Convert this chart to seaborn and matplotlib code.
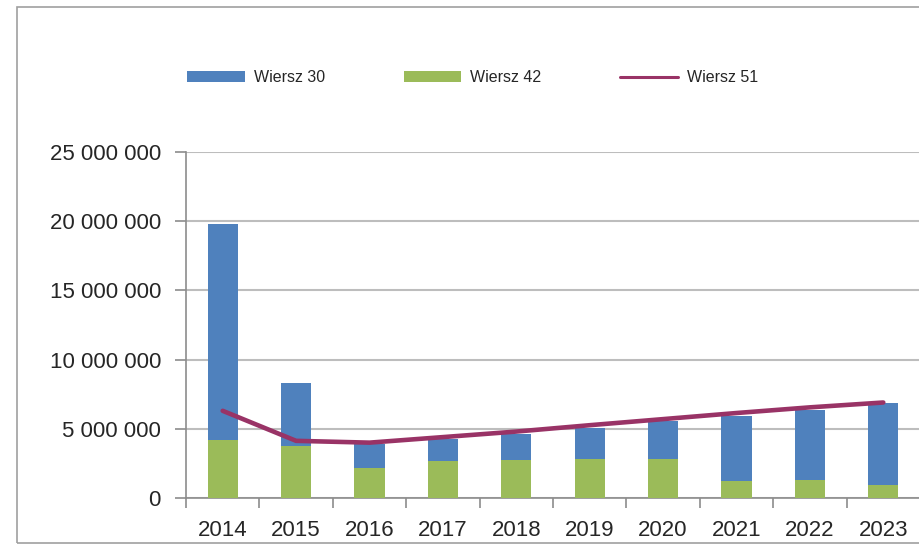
import matplotlib
matplotlib.use("Agg")
import matplotlib.pyplot as plt
import matplotlib.ticker as mticker
from matplotlib.lines import Line2D
from matplotlib.patches import Patch, Rectangle
import numpy as np
import seaborn as sns

# data
years = ["2014", "2015", "2016", "2017", "2018", "2019", "2020", "2021", "2022", "2023"]
wiersz_30 = [19780000, 8330000, 3900000, 4270000, 4640000, 5050000, 5530000, 5900000, 6380000, 6900000]
wiersz_42 = [4200000, 3790000, 2200000, 2700000, 2780000, 2850000, 2850000, 1260000, 1330000, 960000]
wiersz_51 = [6300000, 4130000, 4000000, 4400000, 4800000, 5260000, 5700000, 6140000, 6550000, 6900000]
y_ticks = [0, 5000000, 10000000, 15000000, 20000000, 25000000]

blue = "#4F81BD"
green = "#9BBB59"
maroon = "#993366"
grid_grey = "#BDBDBD"
axis_grey = "#8C8C8C"

sns.set_style("white")
plt.rcParams["font.family"] = ["Liberation Sans", "DejaVu Sans"]

fig = plt.figure(figsize=(9.2, 5.45), dpi=100)
ax = fig.add_axes([186 / 920, 47 / 545, 734 / 920, 346 / 545])

# outer chart frame
fig.patches.append(Rectangle((17 / 920, 2 / 545), 1.0, 536 / 545, transform=fig.transFigure,
                             fill=False, edgecolor="#A0A0A0", linewidth=1.2))

# bars: blue behind, green over it from zero
sns.barplot(x=years, y=wiersz_30, color=blue, saturation=1, width=0.41, ax=ax, zorder=3,
            edgecolor="none", linewidth=0)
sns.barplot(x=years, y=wiersz_42, color=green, saturation=1, width=0.41, ax=ax, zorder=4,
            edgecolor="none", linewidth=0)

# line through bar centres
sns.lineplot(x=np.arange(len(years)), y=wiersz_51, color=maroon, linewidth=3.3, ax=ax,
             zorder=5, legend=False)

ax.set_xlim(-0.5, len(years) - 0.5)
ax.set_ylim(0, 25000000)
ax.set_yticks(y_ticks)
ax.yaxis.set_major_formatter(mticker.FuncFormatter(lambda v, p: f"{int(v):,}".replace(",", " ")))
ax.set_xlabel("")
ax.set_ylabel("")

ax.grid(axis="y", color=grid_grey, linewidth=1.5, zorder=0)
ax.set_axisbelow(True)
for side in ["top", "right"]:
    ax.spines[side].set_visible(False)
for side in ["left", "bottom"]:
    ax.spines[side].set_color(axis_grey)
    ax.spines[side].set_linewidth(1.2)

ax.tick_params(axis="y", which="major", direction="out", length=8, width=1.2, color=axis_grey,
               left=True, labelsize=16, pad=10)
ax.tick_params(axis="x", which="major", length=0, labelsize=16, pad=16)
ax.set_xticks(np.arange(-0.5, len(years), 1.0), minor=True)
ax.tick_params(axis="x", which="minor", direction="out", length=7.5, width=1.2,
               color=axis_grey, bottom=True)

handles = [
    Patch(facecolor=blue, edgecolor="none", label="Wiersz 30"),
    Patch(facecolor=green, edgecolor="none", label="Wiersz 42"),
    Line2D([0], [0], color=maroon, linewidth=2.2, label="Wiersz 51"),
]
fig.legend(handles=handles, loc="center left", bbox_to_anchor=(173 / 920, 1 - 78 / 545),
           ncol=3, frameon=False, fontsize=11.5, handlelength=3.6, handleheight=0.68,
           handletextpad=0.55, columnspacing=4.95)

fig.savefig("out.png", dpi=100)
